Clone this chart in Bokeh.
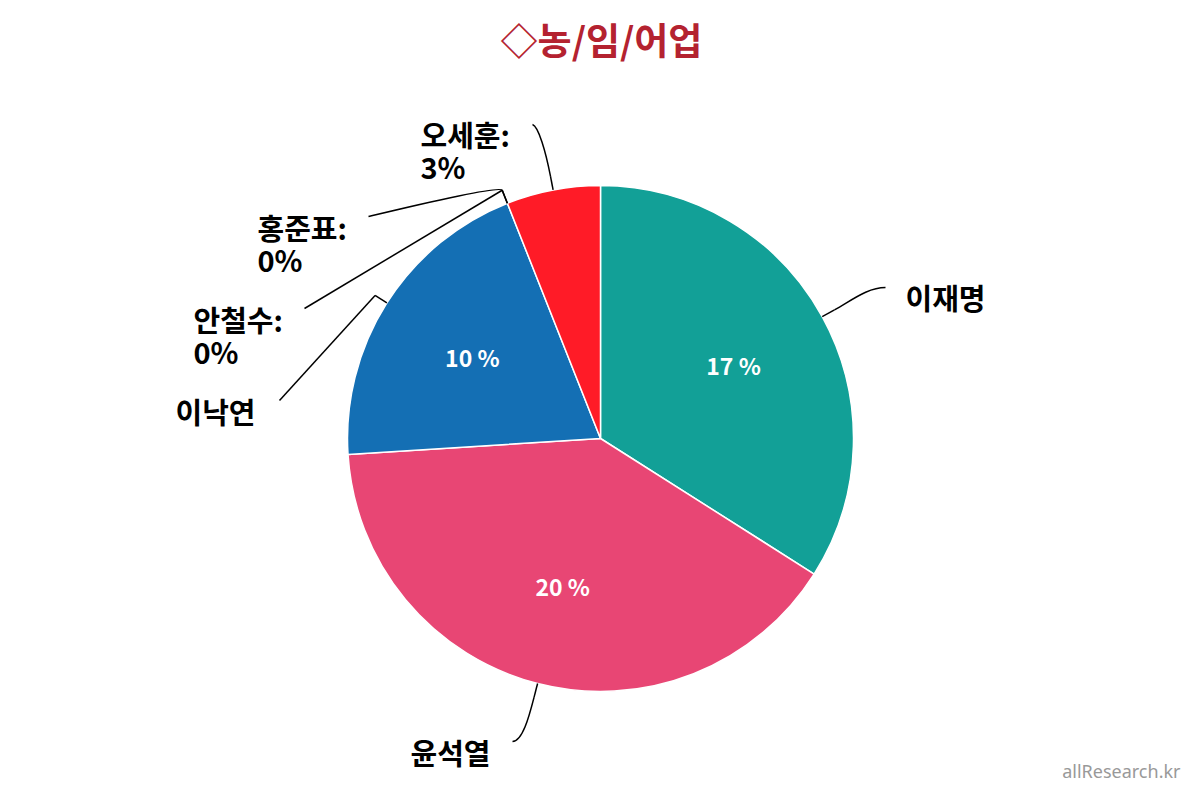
import numpy as np
from bokeh.plotting import figure
from bokeh.models import Range1d
from bokeh.embed import file_html
from bokeh.resources import INLINE
from bokeh.core.properties import value

# ---- data ----
names = ["이재명", "윤석열", "이낙연", "안철수", "홍준표", "오세훈"]
values = [17, 20, 10, 0, 0, 3]
colors = ["#12A097", "#E84674", "#146FB4", "#7CB5EC", "#434348", "#FF1B27"]
title_text = "◇농/임/어업"
watermark = "allResearch.kr"

# ---- layout (screen pixels) ----
H = 800
CX, CY, R = 600, 438, 253
FONT = "Noto Sans CJK KR"
label_pos = [(905, 296), (410, 751), (175, 410), (193, 318), (257, 226), (420, 133)]
two_line = [False, False, False, True, True, True]
conn_end = [(885, 287), (512, 741), (279, 400), (304, 308), (368, 216), (532, 124)]
hook = [(-18, 0), (10, 0), (0, 0), (0, 0), (25, -6), (6, 2)]
radial_ctrl = [20, 20, 0, 0, 6, 25]
LABEL_SIZE = "29px"


def sy(y):
    return H - y


p = figure(width=1184, height=784, x_range=Range1d(0, 1184), y_range=Range1d(16, 800),
           output_backend="svg", toolbar_location=None, min_border=0)
p.axis.visible = False
p.grid.visible = False
p.outline_line_color = None
p.background_fill_color = "white"
p.border_fill_color = "white"

vals = np.array(values, dtype=float)
total = vals.sum()
cum_end = np.cumsum(vals)
cum_start = cum_end - vals
start_a = np.pi / 2 - 2 * np.pi * cum_start / total
end_a = np.pi / 2 - 2 * np.pi * cum_end / total
mid_theta = 2 * np.pi * (cum_start + cum_end) / 2 / total  # clockwise from top

# wedges (non-zero only)
for i, v in enumerate(values):
    if v <= 0:
        continue
    p.wedge(x=CX, y=sy(CY), radius=R, start_angle=start_a[i], end_angle=end_a[i],
            direction="clock", fill_color=colors[i], line_color="white", line_width=1.5)

# inner labels
for i, v in enumerate(values):
    if v < 5:
        continue
    ux, uy = np.sin(mid_theta[i]), np.cos(mid_theta[i])
    r_in = R * 0.6
    p.text(x=[CX + r_in * ux], y=[sy(CY) + r_in * uy], text=[f"{v} %"],
           text_color="white", text_font=value(FONT), text_font_style="bold",
           text_font_size="23px", text_align="center", text_baseline="middle")

# connectors and outer labels
for i, v in enumerate(values):
    ux, uy = np.sin(mid_theta[i]), np.cos(mid_theta[i])
    ex, ey = CX + R * ux, sy(CY) + R * uy
    ox, oy = CX + (R + 14) * ux, sy(CY) + (R + 14) * uy
    tx, ty = conn_end[i][0], sy(conn_end[i][1])
    p.segment(x0=[ex], y0=[ey], x1=[ox], y1=[oy], line_color="black", line_width=1.5)
    c0x, c0y = ox + radial_ctrl[i] * ux, oy + radial_ctrl[i] * uy
    c1x, c1y = tx + hook[i][0], ty - hook[i][1]
    p.bezier(x0=[ox], y0=[oy], x1=[tx], y1=[ty], cx0=[c0x], cy0=[c0y], cx1=[c1x], cy1=[c1y],
             line_color="black", line_width=1.5)
    lx, ly = label_pos[i]
    first = names[i] + ":" if two_line[i] else names[i]
    p.text(x=[lx], y=[sy(ly)], text=[first], text_color="black",
           text_font=value(FONT), text_font_style="bold", text_font_size=LABEL_SIZE,
           text_align="left", text_baseline="middle")
    if two_line[i]:
        p.text(x=[lx], y=[sy(ly + 32)], text=[f"{v}%"], text_color="black",
               text_font=value(FONT), text_font_style="bold", text_font_size=LABEL_SIZE,
               text_align="left", text_baseline="middle")

# title
p.text(x=[601], y=[sy(38)], text=[title_text], text_color="#B42230",
       text_font=value(FONT), text_font_style="bold", text_font_size="37px",
       text_align="center", text_baseline="middle")

# watermark
p.text(x=[1180], y=[sy(770)], text=[watermark], text_color="#999999",
       text_font=value("Noto Sans"), text_font_size="18px",
       text_align="right", text_baseline="middle")

open("out.html", "w").write(file_html(p, INLINE))
